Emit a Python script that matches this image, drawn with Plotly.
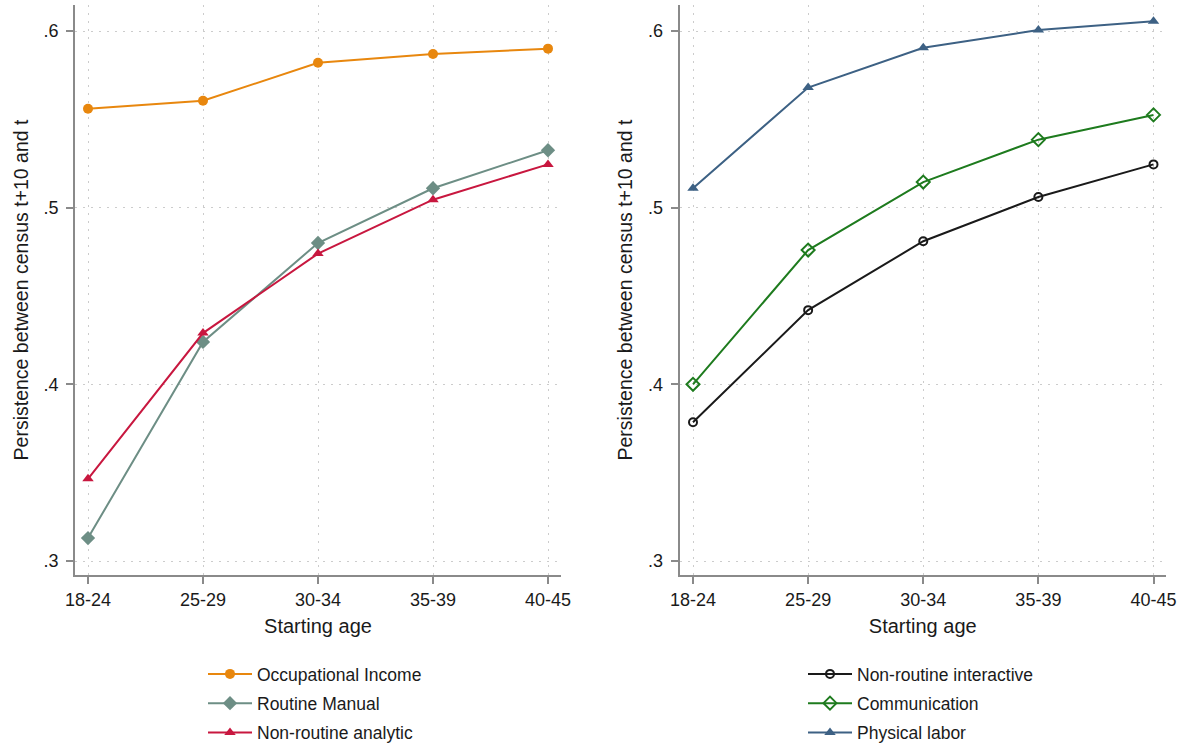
import plotly.graph_objects as go

ages = ["18-24", "25-29", "30-34", "35-39", "40-45"]
xpos = [0, 1, 2, 3, 4]

occ_income = [0.556, 0.5605, 0.582, 0.587, 0.590]
routine_manual = [0.313, 0.424, 0.480, 0.511, 0.5325]
nonroutine_analytic = [0.3465, 0.429, 0.474, 0.5045, 0.5245]

nonroutine_interactive = [0.3785, 0.442, 0.481, 0.506, 0.5245]
communication = [0.400, 0.476, 0.5145, 0.5385, 0.5525]
physical_labor = [0.511, 0.568, 0.5905, 0.6005, 0.6055]

yticks = [0.3, 0.4, 0.5, 0.6]
yticktext = [".3", ".4", ".5", ".6"]

FONT = "Liberation Sans, Arial, sans-serif"
TXT = "#1a1a1a"
AXC = "#8a8a8a"
GRID = "#cccccc"

fig = go.Figure()

left = [
    ("Occupational Income", occ_income, "#e8870e", "circle", 10, 0),
    ("Routine Manual", routine_manual, "#6d8e85", "diamond", 11, 0),
    ("Non-routine analytic", nonroutine_analytic, "#c8173f", "triangle-up", 10, 0),
]
right = [
    ("Non-routine interactive", nonroutine_interactive, "#1a1a1a", "circle-open", 8, 2),
    ("Communication", communication, "#1e7b1e", "diamond-open", 10, 2),
    ("Physical labor", physical_labor, "#3d6184", "triangle-up", 10, 0),
]

for i, (name, vals, col, sym, sz, lw) in enumerate(left):
    fig.add_trace(go.Scatter(
        x=xpos, y=vals, name=name, mode="lines+markers",
        line=dict(color=col, width=2),
        marker=dict(symbol=sym, size=sz, color=col, line=dict(color=col, width=lw)),
        xaxis="x", yaxis="y", legend="legend", legendgroup=f"l{i}",
    ))
for i, (name, vals, col, sym, sz, lw) in enumerate(right):
    fig.add_trace(go.Scatter(
        x=xpos, y=vals, name=name, mode="lines+markers",
        line=dict(color=col, width=2),
        marker=dict(symbol=sym, size=sz, color=col, line=dict(color=col, width=lw)),
        xaxis="x2", yaxis="y2", legend="legend2", legendgroup=f"r{i}",
    ))

W, H = 1184, 746
ytop, ybot = 5, 575
ydom = [1 - ybot / H, 1 - ytop / H]
yrange = [0.3 - (ybot - 561) / 1767, 0.6 + (31 - ytop) / 1767]

def xaxis_cfg(x0, x1, first, last):
    per = (last - first) / 4
    return dict(
        domain=[x0 / W, x1 / W],
        range=[-(first - x0) / per, 4 + (x1 - last) / per],
        tickvals=xpos, ticktext=ages,
        showline=True, linecolor=AXC, linewidth=2,
        ticks="outside", ticklen=7, tickwidth=1.5, tickcolor=AXC,
        showgrid=True, gridcolor=GRID, griddash="2px,6px", gridwidth=1,
        zeroline=False, tickfont=dict(family=FONT, size=18, color=TXT),
        ticklabelstandoff=0,
        title=dict(text="Starting age", font=dict(family=FONT, size=20, color=TXT), standoff=10),
        fixedrange=True,
    )

def yaxis_cfg(anchor):
    return dict(
        domain=ydom, range=yrange, anchor=anchor,
        tickvals=yticks, ticktext=yticktext,
        showline=True, linecolor=AXC, linewidth=2,
        ticks="outside", ticklen=7, tickwidth=1.5, tickcolor=AXC,
        showgrid=True, gridcolor=GRID, griddash="2px,6px", gridwidth=1,
        zeroline=False, tickfont=dict(family=FONT, size=18, color=TXT),
        ticklabelstandoff=4,
        title=dict(text="Persistence between census t+10 and t",
                   font=dict(family=FONT, size=19.5, color=TXT), standoff=10),
        fixedrange=True,
    )

leg_common = dict(
    xanchor="left", yanchor="top", bgcolor="rgba(0,0,0,0)",
    font=dict(family=FONT, size=17.5, color=TXT),
    tracegroupgap=3.5, itemwidth=44, orientation="v",
)

fig.update_layout(
    width=W, height=H, autosize=False,
    margin=dict(l=0, r=0, t=0, b=0, autoexpand=False),
    paper_bgcolor="white", plot_bgcolor="white",
    xaxis=dict(anchor="y", **xaxis_cfg(75, 561, 88, 548)),
    yaxis=yaxis_cfg("x"),
    xaxis2=dict(anchor="y2", **xaxis_cfg(679.5, 1166, 693, 1153.5)),
    yaxis2=yaxis_cfg("x2"),
    legend=dict(x=203 / W, y=1 - 656 / H, **leg_common),
    legend2=dict(x=803 / W, y=1 - 656 / H, **leg_common),
    showlegend=True,
)

fig.write_html("out.html")
